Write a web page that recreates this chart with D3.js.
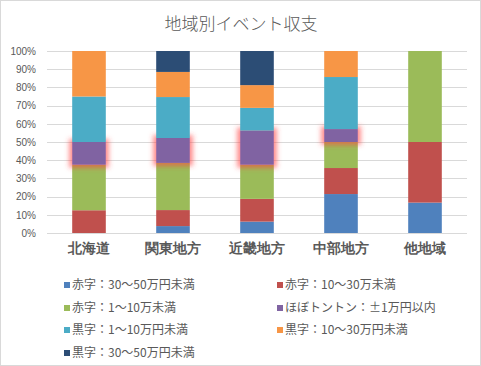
<!DOCTYPE html>
<html><head><meta charset="utf-8">
<script src="https://cdn.jsdelivr.net/npm/d3@7"></script>
<style>
html,body{margin:0;padding:0;background:#fff;}
svg{display:block;font-family:"Noto Sans CJK JP","Noto Sans",sans-serif;}
</style></head>
<body>
<svg id="chart" width="481" height="366"></svg>
<script>
const title = "地域別イベント収支";
const categories = ["北海道","関東地方","近畿地方","中部地方","他地域"];
const seriesNames = ["赤字：30～50万円未満","赤字：10～30万未満","赤字：1～10万未満","ほぼトントン：±1万円以内","黒字：1～10万円未満","黒字：10～30万円未満","黒字：30～50万円未満"];
const seriesColors = ["#4f81bd","#c0504d","#9bbb59","#8064a2","#4bacc6","#f79646","#2c4d75"];
// percentage values per series, one per category
const s0 = [0, 3.8, 6.25, 21.4, 16.7];
const s1 = [12.5, 8.8, 12.5, 14.3, 33.3];
const s2 = [25, 25.9, 18.75, 14.3, 50];
const s3 = [12.5, 13.7, 18.75, 7.1, 0];
const s4 = [25, 22.5, 12.5, 28.6, 0];
const s5 = [25, 13.8, 12.5, 14.3, 0];
const s6 = [0, 11.5, 18.75, 0, 0];
const seriesValues = [s0,s1,s2,s3,s4,s5,s6];
const yTicks = [0,0.1,0.2,0.3,0.4,0.5,0.6,0.7,0.8,0.9,1];
const glowSeries = 3;

const svg = d3.select("#chart");
const W = 481, H = 366;
svg.append("rect").attr("x",0.5).attr("y",0.5).attr("width",W-1).attr("height",H-1)
  .attr("fill","#fff").attr("stroke","#d9d9d9");

const defs = svg.append("defs");
const f = defs.append("filter").attr("id","glow").attr("x","-50%").attr("y","-50%").attr("width","200%").attr("height","200%");
f.append("feMorphology").attr("in","SourceAlpha").attr("operator","dilate").attr("radius",3).attr("result","d");
f.append("feGaussianBlur").attr("in","d").attr("stdDeviation",2.5).attr("result","b");
f.append("feFlood").attr("flood-color","#ff4040").attr("flood-opacity",0.6).attr("result","c");
f.append("feComposite").attr("in","c").attr("in2","b").attr("operator","in").attr("result","g");
const fm = f.append("feMerge");
fm.append("feMergeNode").attr("in","g");
fm.append("feMergeNode").attr("in","SourceGraphic");

const m = {left:47, right:14, top:51, bottom:133};
const x = d3.scaleBand().domain(categories).range([m.left, W-m.right]).paddingInner(0.6).paddingOuter(0.3);
const y = d3.scaleLinear().domain([0,1]).range([233, 51]);

svg.append("text").attr("x",241).attr("y",30).attr("text-anchor","middle")
  .attr("font-size",17).attr("font-weight",300).attr("fill","#595959").text(title);

// gridlines
svg.append("g").selectAll("line").data(yTicks).join("line")
  .attr("x1",m.left).attr("x2",W-m.right)
  .attr("y1",d=>Math.round(y(d))+0.5).attr("y2",d=>Math.round(y(d))+0.5)
  .attr("stroke","#d9d9d9").attr("stroke-width",1);

// y axis labels
const yAxis = d3.axisLeft(y).tickValues(yTicks).tickFormat(d3.format(".0%")).tickSize(0).tickPadding(0);
const ya = svg.append("g").attr("transform","translate(36,0)").call(yAxis);
ya.select(".domain").remove();
ya.selectAll("text").attr("font-size",10).attr("fill","#595959").attr("font-family","'Liberation Sans',sans-serif");

// data table
const table = categories.map((c,i)=>{
  const o = {cat:c};
  seriesNames.forEach((n,j)=>o[n]=seriesValues[j][i]);
  return o;
});
const stack = d3.stack().keys(seriesNames).offset(d3.stackOffsetExpand);
const layers = stack(table);

layers.forEach((layer,j)=>{
  const g = svg.append("g").attr("fill",seriesColors[j]);
  if (j===glowSeries) g.attr("filter","url(#glow)");
  g.selectAll("rect").data(layer.filter(d=>d[1]-d[0]>0)).join("rect")
    .attr("x",d=>x(d.data.cat)).attr("width",x.bandwidth())
    .attr("y",d=>y(d[1])).attr("height",d=>y(d[0])-y(d[1]));
});

// x axis labels
const xAxis = d3.axisBottom(x).tickSize(0).tickPadding(0);
const xa = svg.append("g").attr("transform","translate(0,240)").call(xAxis);
xa.select(".domain").remove();
xa.selectAll("text").attr("font-size",14).attr("font-weight","bold").attr("fill","#595959").attr("dy","0.9em");

// legend
const legX = [64, 277];
const legY = [285, 308, 330, 353];
const lg = svg.append("g").selectAll("g").data(seriesNames).join("g")
  .attr("transform",(d,i)=>`translate(${legX[i%2]},${legY[Math.floor(i/2)]})`);
lg.append("rect").attr("x",0).attr("y",-3).attr("width",6).attr("height",6).attr("fill",(d,i)=>seriesColors[i]);
lg.append("text").attr("x",8).attr("y",0).attr("dy","0.35em").attr("font-size",12).attr("fill","#595959").text(d=>d);
</script>
</body></html>
